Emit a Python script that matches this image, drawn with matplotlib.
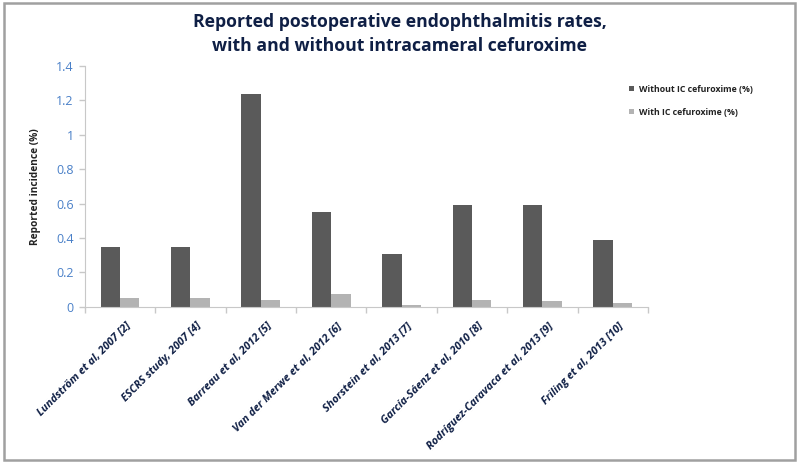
import matplotlib
matplotlib.use("Agg")
import numpy as np
import matplotlib.pyplot as plt
from matplotlib.patches import Rectangle

studies = ["Lundström et al, 2007 [2]", "ESCRS study, 2007 [4]", "Barreau et al, 2012 [5]",
           "Van der Merwe et al, 2012 [6]", "Shorstein et al, 2013 [7]", "García-Sáenz et al, 2010 [8]",
           "Rodríguez-Caravaca et al, 2013 [9]", "Friling et al, 2013 [10]"]
without_ic = [0.35, 0.35, 1.24, 0.55, 0.31, 0.59, 0.59, 0.39]
with_ic = [0.05, 0.05, 0.04, 0.075, 0.01, 0.04, 0.035, 0.025]
yticks = [0, 0.2, 0.4, 0.6, 0.8, 1, 1.2, 1.4]
ytick_labels = ["0", "0.2", "0.4", "0.6", "0.8", "1", "1.2", "1.4"]

plt.rcParams['font.family'] = ['Open Sans', 'DejaVu Sans']
navy = '#0f1f45'
blue = '#4a80c8'

fig = plt.figure(figsize=(8, 4.65), dpi=100)
fig.patches.append(Rectangle((0.005, 0.011), 0.989, 0.982, transform=fig.transFigure,
                             fill=False, edgecolor='#a0a0a0', linewidth=1.8))
ax = fig.add_axes([0.106, 0.34, 0.704, 0.518])

x = np.arange(len(studies))
w = 0.275
ax.bar(x - w/2, without_ic, w, color='#5a5a5a', label='Without IC cefuroxime (%)')
ax.bar(x + w/2, with_ic, w, color='#b3b3b3', label='With IC cefuroxime (%)')

ax.set_xlim(-0.5, len(studies) - 0.5)
ax.set_ylim(0, 1.4)
ax.set_yticks(yticks)
ax.set_yticklabels(ytick_labels, color=blue, fontsize=9)
ax.set_xticks(np.arange(len(studies) + 1) - 0.5)
ax.set_xticklabels([])
ax.tick_params(axis='both', color='#c8c8c8', length=4, width=1)
ax.tick_params(axis='y', pad=4)
for i, s in enumerate(studies):
    ax.text(i + 0.08, -0.08, s, rotation=45, ha='right', va='top', fontsize=7.8,
            fontweight='bold', fontstyle='italic', color=navy, rotation_mode='anchor')

for sp in ['top', 'right']:
    ax.spines[sp].set_visible(False)
for sp in ['left', 'bottom']:
    ax.spines[sp].set_color('#c8c8c8')

ax.set_ylabel('Reported incidence (%)', fontsize=7.3, fontweight='bold', color='#222222', labelpad=11)

fig.text(0.5, 0.972, 'Reported postoperative endophthalmitis rates,\nwith and without intracameral cefuroxime',
         ha='center', va='top', fontsize=12.7, fontweight='bold', color=navy, linespacing=1.4)

leg = fig.legend(loc='upper left', bbox_to_anchor=(0.776, 0.835), frameon=False,
                 handlelength=0.6, handleheight=0.6, handletextpad=0.6, labelspacing=1.6,
                 prop={'weight': 'bold', 'size': 6.3})
for t in leg.get_texts():
    t.set_color('#222222')

fig.savefig('out.png', dpi=100)
